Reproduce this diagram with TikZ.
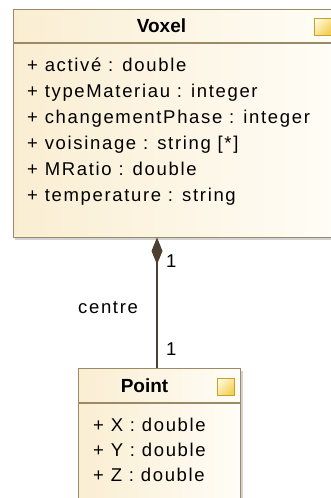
\documentclass[tikz,border=0pt]{standalone}
\usepackage{fontspec}
\setmainfont{Liberation Sans}[LetterSpace=9]
\usetikzlibrary{arrows.meta,shadows}
\definecolor{umlborder}{HTML}{9A8A68}
\definecolor{umlleft}{HTML}{FAEED2}
\definecolor{umlright}{HTML}{FFFDF7}
\definecolor{umlline}{HTML}{4E4030}
\definecolor{iconborder}{HTML}{C9A12A}
\definecolor{icondark}{HTML}{F3CF55}
\definecolor{iconlight}{HTML}{FFF8D8}
\tikzset{
  classbox/.style={draw=umlborder, line width=1.2pt, left color=umlleft, right color=umlright,
    rectangle, inner sep=0pt, anchor=north west,
    drop shadow={shadow xshift=2pt, shadow yshift=-2pt, fill=black!35, opacity=0.5}},
  classicon/.style={draw=iconborder, line width=1.1pt, top color=iconlight, bottom color=icondark,
    shading angle=45, rectangle, inner sep=0pt, minimum width=17pt, minimum height=17pt, anchor=north west},
  divider/.style={draw=umlborder, line width=1.2pt},
  title/.style={font=\fontsize{19}{22}\selectfont\bfseries\addfontfeature{LetterSpace=0}, inner sep=0pt, anchor=base},
  attr/.style={font=\fontsize{18.5}{22}\selectfont, inner sep=0pt, anchor=base west},
  lbl/.style={font=\fontsize{18.5}{22}\selectfont, inner sep=0pt, anchor=base west},
  comp/.style={draw=umlline, line width=1.6pt, -{Diamond[length=27pt,width=11pt,fill=umlline]}},
}
\begin{document}
\begin{tikzpicture}[x=1pt,y=-1pt]
\useasboundingbox (0,0) rectangle (331,498);
% Voxel class
\node[classbox, minimum width=325pt, minimum height=228pt] (voxel) at (12.5,9) {};
\draw[divider] (12.5,43) -- (337.5,43);
\node[classicon] (voxelicon) at (313.5,17.5) {};
\node[title] (voxeltitle) at (161.5,32) {Voxel};
\node[attr] (a1) at (27,71) {+ activé : double};
\node[attr] (a2) at (27,97) {+ typeMateriau : integer};
\node[attr] (a3) at (27,123) {+ changementPhase : integer};
\node[attr] (a4) at (27,149) {+ voisinage : string [*]};
\node[attr] (a5) at (27,175) {+ MRatio : double};
\node[attr] (a6) at (27,201) {+ temperature : string};
% Point class
\node[classbox, minimum width=162pt, minimum height=150pt] (point) at (78,368) {};
\draw[divider] (78,403) -- (240,403);
\node[classicon] (pointicon) at (216.5,377.5) {};
\node[title] (pointtitle) at (144.5,392) {Point};
\node[attr] (p1) at (93,431) {+ X : double};
\node[attr] (p2) at (93,456) {+ Y : double};
\node[attr] (p3) at (93,481) {+ Z : double};
% composition
\coordinate (vb) at (157,237.5);
\draw[comp] (point.north -| vb) -- (vb);
\node[lbl] (m1) at (166,267) {1};
\node[lbl] (m2) at (166,355) {1};
\node[lbl] (role) at (78,313) {centre};
\end{tikzpicture}
\end{document}
